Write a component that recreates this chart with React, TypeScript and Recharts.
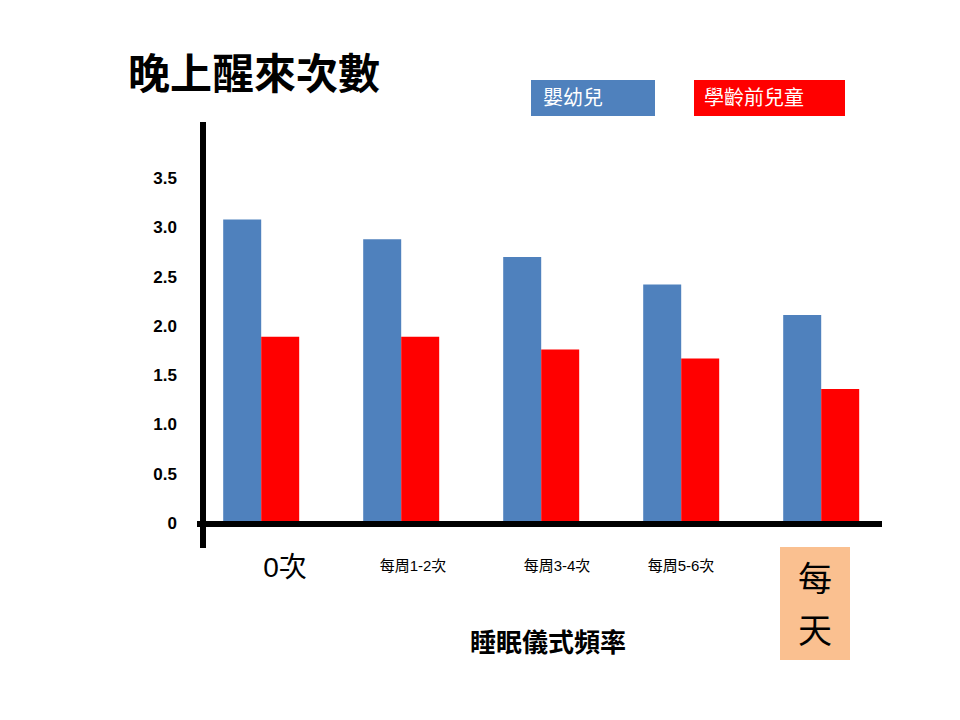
import React from "react";
import { BarChart, Bar, XAxis, YAxis } from "recharts";

const categories = ["0次", "每周1-2次", "每周3-4次", "每周5-6次", "每天"];
const infants = [3.08, 2.88, 2.7, 2.42, 2.11];
const preschool = [1.89, 1.89, 1.76, 1.67, 1.36];
const yTicks = [0, 0.5, 1, 1.5, 2, 2.5, 3, 3.5];

const data = categories.map((c, i) => ({ name: c, a: infants[i], b: preschool[i] }));
const FONT = "'Liberation Sans', 'Noto Sans CJK TC', sans-serif";

const renderYTick = (p: any) => (
  <text key={"y" + p.index} x={203 - 26} y={p.y} dy={6} textAnchor="end" fontSize={17} fontWeight="bold" fontFamily={FONT} fill="#000">
    {p.payload.value === 0 ? "0" : p.payload.value.toFixed(1)}
  </text>
);

const renderXTick = (p: any) => {
  const v = p.payload.value as string;
  const i = p.index;
  const y0 = 523;
  if (v === "每天") {
    return (
      <g key={"x" + i}>
        <rect x={p.x - 41} y={y0 + 24} width={70} height={113} fill="#fac090" />
        <text x={p.x - 6} y={y0 + 68} textAnchor="middle" fontSize={34} fontFamily={FONT} fill="#000">每</text>
        <text x={p.x - 6} y={y0 + 120} textAnchor="middle" fontSize={34} fontFamily={FONT} fill="#000">天</text>
      </g>
    );
  }
  const offs = [24, 12, 16, 0];
  const big = i === 0;
  return (
    <text key={"x" + i} x={p.x + offs[i]} y={y0 + (big ? 54 : 48)} textAnchor="middle" fontSize={big ? 28 : 15} fontFamily={FONT} fill="#000">
      {v}
    </text>
  );
};

export default function App() {
  return (
    <div style={{ position: "absolute", left: 0, top: 0, width: 960, height: 720, background: "#fff", fontFamily: FONT }}>
      <div style={{ position: "absolute", left: 128, top: 40, fontSize: 42, fontWeight: "bold" }}>晚上醒來次數</div>
      <div style={{ position: "absolute", left: 531, top: 80, width: 124, height: 36, background: "#4f81bd", color: "#fff", fontSize: 20, lineHeight: "36px", paddingLeft: 12, boxSizing: "border-box" }}>嬰幼兒</div>
      <div style={{ position: "absolute", left: 694, top: 80, width: 151, height: 36, background: "#ff0000", color: "#fff", fontSize: 20, lineHeight: "36px", paddingLeft: 10, boxSizing: "border-box" }}>學齡前兒童</div>
      <BarChart width={960} height={720} data={data} margin={{ top: 122, bottom: 167, left: 161, right: 69 }} barCategoryGap="23%" barGap={0}>
        <YAxis width={30} domain={[0, 4.07]} ticks={yTicks} axisLine={false} tickLine={false} tick={renderYTick} interval={0} />
        <XAxis dataKey="name" height={30} axisLine={false} tickLine={false} tick={renderXTick} interval={0} />
        <Bar dataKey="a" fill="#4f81bd" isAnimationActive={false} />
        <Bar dataKey="b" fill="#ff0000" isAnimationActive={false} />
      </BarChart>
      <div style={{ position: "absolute", left: 200, top: 122, width: 6, height: 426, background: "#000" }} />
      <div style={{ position: "absolute", left: 197, top: 521, width: 685, height: 6, background: "#000" }} />
      <div style={{ position: "absolute", left: 548, top: 640, transform: "translate(-50%,-50%)", fontSize: 26, fontWeight: "bold" }}>睡眠儀式頻率</div>
    </div>
  );
}
